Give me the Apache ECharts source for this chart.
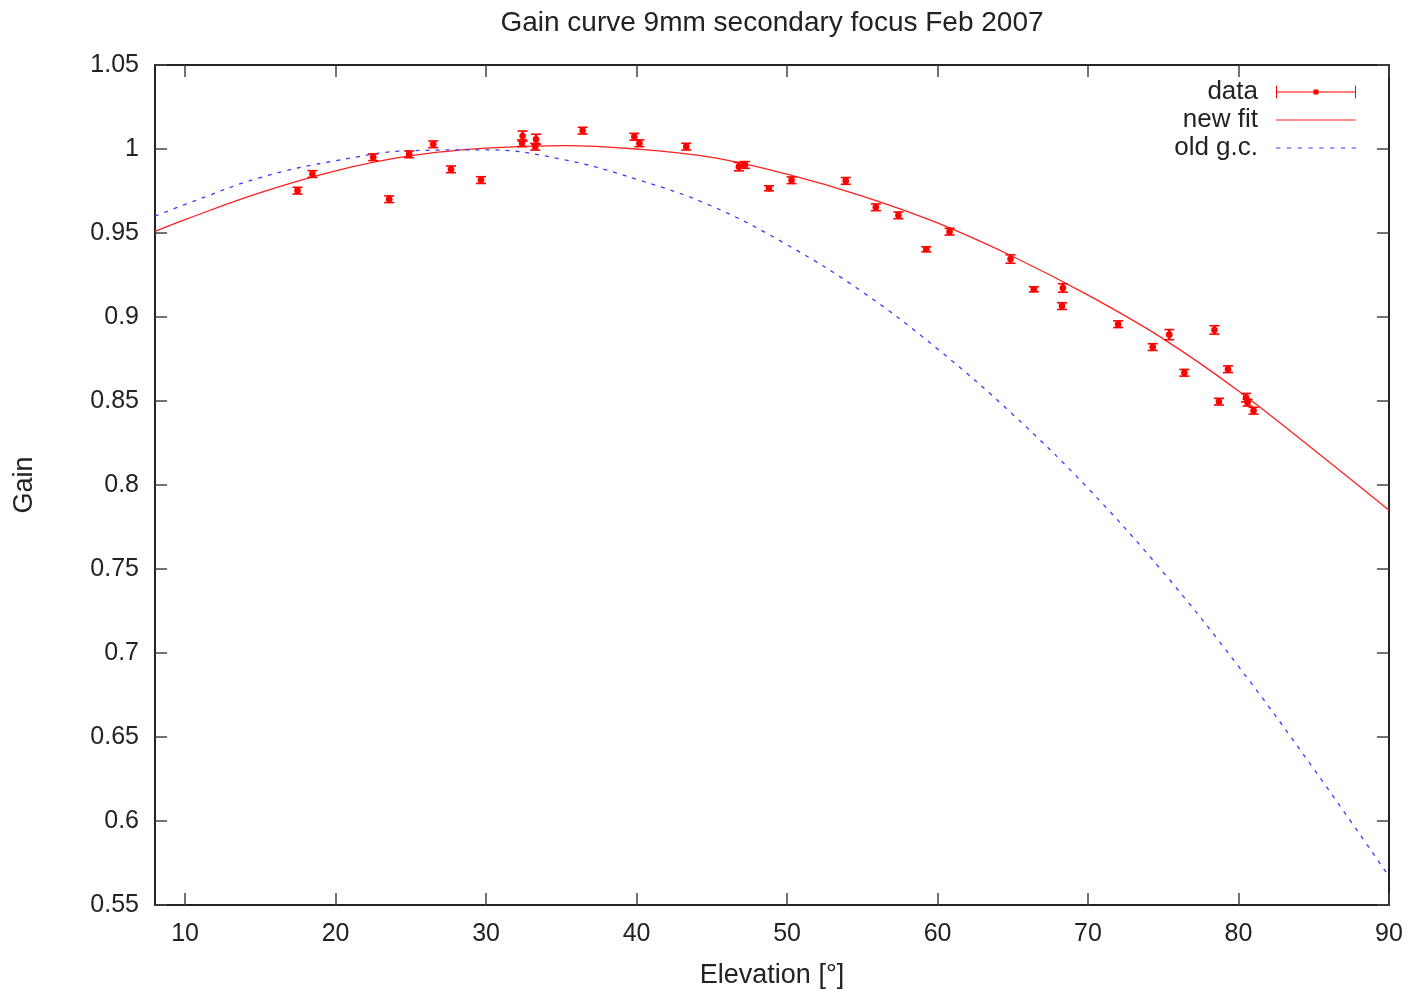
<!DOCTYPE html>
<html>
<head>
<meta charset="utf-8">
<title>Gain curve 9mm secondary focus Feb 2007</title>
<script src="https://cdn.jsdelivr.net/npm/echarts@6/dist/echarts.min.js"></script>
<style>
  html, body { margin: 0; padding: 0; background: #fff; }
  #chart { width: 1410px; height: 991px; }
</style>
</head>
<body>
<div id="chart"></div>
<script>
// measured points: elevation, gain, error
var dataX = [17.47, 18.46, 22.5, 23.56, 24.89, 26.49, 27.67, 29.66, 32.43, 32.39,
  33.32, 33.27, 36.42, 39.85, 40.19, 43.3, 46.8, 47.2, 48.8, 50.3,
  53.9, 55.9, 57.4, 59.25, 60.8, 64.85, 66.4, 68.33, 68.27, 72.0,
  74.3, 75.4, 76.4, 78.4, 78.7, 79.3, 80.5, 80.6, 81.0];
var dataY = [0.9752, 0.9851, 0.9951, 0.9701, 0.9968, 1.0028, 0.9879, 0.9815, 1.0077, 1.0034,
  1.0058, 1.0014, 1.0109, 1.0073, 1.0034, 1.0014, 0.9895, 0.9905, 0.9766, 0.9814,
  0.981, 0.9653, 0.9605, 0.9403, 0.9508, 0.9345, 0.9165, 0.9173, 0.9065, 0.8957,
  0.8821, 0.8895, 0.8668, 0.8923, 0.8496, 0.8689, 0.852, 0.849, 0.8442];
var dataErr = [0.002, 0.002, 0.002, 0.002, 0.002, 0.002, 0.002, 0.002, 0.003, 0.002,
  0.003, 0.002, 0.002, 0.002, 0.002, 0.002, 0.0025, 0.002, 0.0015, 0.002,
  0.002, 0.002, 0.002, 0.0015, 0.002, 0.0025, 0.0015, 0.0025, 0.002, 0.002,
  0.002, 0.003, 0.002, 0.0025, 0.002, 0.002, 0.0025, 0.002, 0.002];

// fit curves, every 5 degrees
var fitX = [8, 10, 15, 20, 25, 30, 35, 40, 45, 50, 55, 60, 65, 70, 75, 80, 85, 90];
var newFit = [0.951, 0.958, 0.974, 0.987, 0.996, 1.0005, 1.002, 1.000, 0.995, 0.985,
  0.972, 0.956, 0.936, 0.913, 0.887, 0.856, 0.821, 0.785];
var oldGc = [0.960, 0.967, 0.983, 0.993, 0.999, 0.9995, 0.994, 0.982, 0.966, 0.943,
  0.915, 0.881, 0.842, 0.798, 0.748, 0.692, 0.631, 0.567];

var xTicks = [10, 20, 30, 40, 50, 60, 70, 80, 90];

var font = 'Liberation Sans';
var ink = '#222';

var chart = echarts.init(document.getElementById('chart'));

function pairs(xs, ys) {
  return xs.map(function (x, i) { return [x, ys[i]]; });
}

var points = dataX.map(function (x, i) { return [x, dataY[i], dataErr[i]]; });

function renderErrorBar(params, api) {
  var x = api.value(0), y = api.value(1), e = api.value(2);
  var top = api.coord([x, y + e]);
  var bot = api.coord([x, y - e]);
  var mid = api.coord([x, y]);
  var cap = 5;
  var st = { stroke: 'red', lineWidth: 1.6 };
  return {
    type: 'group',
    children: [
      { type: 'line', shape: { x1: top[0], y1: top[1], x2: bot[0], y2: bot[1] }, style: { stroke: 'red', lineWidth: 2.5 } },
      { type: 'line', shape: { x1: top[0] - cap, y1: top[1], x2: top[0] + cap, y2: top[1] }, style: st },
      { type: 'line', shape: { x1: bot[0] - cap, y1: bot[1], x2: bot[0] + cap, y2: bot[1] }, style: st },
      { type: 'circle', shape: { cx: mid[0], cy: mid[1], r: 3.3 }, style: { fill: 'red' } }
    ]
  };
}

function frameAxis(pos, extra) {
  var a = {
    type: 'value',
    position: pos,
    axisLine: { show: true, onZero: false, lineStyle: { color: ink, width: 2 } },
    axisTick: { show: true, inside: true, length: 12, lineStyle: { color: '#444', width: 1.5 } },
    axisLabel: { show: false },
    splitLine: { show: false }
  };
  return Object.assign(a, extra);
}

var option = {
  animation: false,
  backgroundColor: '#fff',
  textStyle: { fontFamily: font },
  title: {
    text: 'Gain curve 9mm secondary focus Feb 2007',
    left: 772,
    top: 9,
    padding: 0,
    textAlign: 'center',
    textStyle: { fontFamily: font, fontSize: 28, fontWeight: 'normal', color: ink }
  },
  grid: { left: 155, right: 21, top: 65, bottom: 86, outerBoundsMode: 'none', containLabel: false },
  legend: {
    orient: 'vertical',
    align: 'right',
    right: 54,
    top: 79,
    padding: 0,
    itemWidth: 80,
    itemHeight: 13,
    itemGap: 2,
    textStyle: { fontFamily: font, fontSize: 26, color: ink, padding: [0, 13, 0, 0] },
    data: [
      { name: 'data', icon: 'path://M0,0h1v13h-1zM1,6h78v1h-78zM79,0h1v13h-1zM37.5,4h5v5h-5z' },
      { name: 'new fit', icon: 'path://M0,0h80v1h-80z' },
      { name: 'old g.c.', icon: 'path://M0,0h4v1h-4zM10,0h4v1h-4zM20,0h4v1h-4zM30,0h4v1h-4zM40,0h4v1h-4zM50,0h4v1h-4zM60,0h4v1h-4zM70,0h4v1h-4z' }
    ]
  },
  xAxis: [
    frameAxis('bottom', {
      min: 8, max: 90,
      name: 'Elevation [°]',
      nameLocation: 'middle',
      nameGap: 57,
      nameTextStyle: { fontFamily: font, fontSize: 27, color: ink },
      axisTick: { show: true, inside: true, length: 12, customValues: xTicks, lineStyle: { color: '#444', width: 1.5 } },
      axisLabel: { show: true, customValues: xTicks, margin: 17, fontFamily: font, fontSize: 25, color: ink }
    }),
    frameAxis('top', {
      min: 8, max: 90,
      axisTick: { show: true, inside: true, length: 12, customValues: xTicks, lineStyle: { color: '#444', width: 1.5 } }
    })
  ],
  yAxis: [
    frameAxis('left', {
      min: 0.55, max: 1.05, interval: 0.05,
      name: 'Gain',
      nameLocation: 'middle',
      nameGap: 117,
      nameTextStyle: { fontFamily: font, fontSize: 27, color: ink },
      axisLabel: { show: true, margin: 16, fontFamily: font, fontSize: 25, color: ink }
    }),
    frameAxis('right', { min: 0.55, max: 1.05, interval: 0.05 })
  ],
  series: [
    {
      name: 'data',
      type: 'custom',
      renderItem: renderErrorBar,
      itemStyle: { color: 'red' },
      encode: { x: 0, y: 1 },
      data: points,
      z: 5
    },
    {
      name: 'new fit',
      type: 'line',
      data: pairs(fitX, newFit),
      smooth: 0.4,
      symbol: 'none',
      color: '#ff2020',
      lineStyle: { color: '#ff2020', width: 1.3 }
    },
    {
      name: 'old g.c.',
      type: 'line',
      data: pairs(fitX, oldGc),
      smooth: 0.4,
      symbol: 'none',
      color: '#3a3aff',
      lineStyle: { color: '#3a3aff', width: 1.3, type: [4, 6] }
    }
  ]
};

chart.setOption(option);
</script>
</body>
</html>
